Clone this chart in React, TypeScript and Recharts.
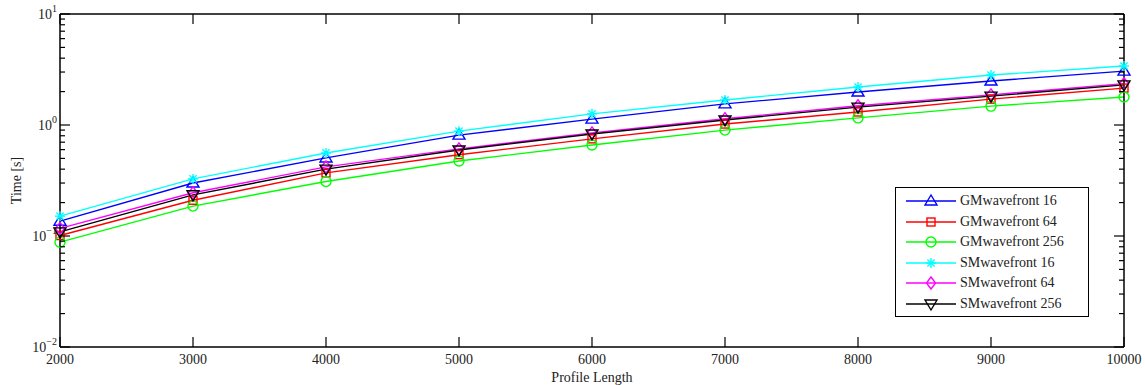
import { LineChart, Line, XAxis, YAxis, Legend } from 'recharts';

const PROFILE_LENGTHS = [2000, 3000, 4000, 5000, 6000, 7000, 8000, 9000, 10000];
const GM_16 = [0.136, 0.3, 0.505, 0.81, 1.13, 1.55, 1.98, 2.49, 3.06];
const GM_64 = [0.101, 0.21, 0.37, 0.54, 0.75, 1.02, 1.31, 1.71, 2.15];
const GM_256 = [0.088, 0.186, 0.31, 0.474, 0.66, 0.9, 1.16, 1.48, 1.79];
const SM_16 = [0.151, 0.327, 0.56, 0.88, 1.26, 1.68, 2.2, 2.82, 3.4];
const SM_64 = [0.117, 0.245, 0.42, 0.61, 0.85, 1.14, 1.49, 1.87, 2.36];
const SM_256 = [0.109, 0.235, 0.4, 0.596, 0.83, 1.11, 1.45, 1.82, 2.3];

const X_TICKS = [2000, 3000, 4000, 5000, 6000, 7000, 8000, 9000, 10000];
const Y_TICKS = [
  0.01, 0.02, 0.03, 0.04, 0.05, 0.06, 0.07, 0.08, 0.09,
  0.1, 0.2, 0.3, 0.4, 0.5, 0.6, 0.7, 0.8, 0.9,
  1, 2, 3, 4, 5, 6, 7, 8, 9, 10,
];

type MarkerKind = 'triUp' | 'square' | 'circle' | 'star' | 'diamond' | 'triDown';

const SERIES: { key: string; name: string; color: string; marker: MarkerKind; values: number[] }[] = [
  { key: 'gm16', name: 'GMwavefront 16', color: '#0000ff', marker: 'triUp', values: GM_16 },
  { key: 'gm64', name: 'GMwavefront 64', color: '#ff0000', marker: 'square', values: GM_64 },
  { key: 'gm256', name: 'GMwavefront 256', color: '#00ff00', marker: 'circle', values: GM_256 },
  { key: 'sm16', name: 'SMwavefront 16', color: '#00ffff', marker: 'star', values: SM_16 },
  { key: 'sm64', name: 'SMwavefront 64', color: '#ff00ff', marker: 'diamond', values: SM_64 },
  { key: 'sm256', name: 'SMwavefront 256', color: '#000000', marker: 'triDown', values: SM_256 },
];

const data = PROFILE_LENGTHS.map((len, i) => {
  const row: Record<string, number> = { len };
  SERIES.forEach(s => { row[s.key] = s.values[i]; });
  return row;
});

const FONT = '"Liberation Serif", "DejaVu Serif", serif';
const TEXT = '#222';

function Marker({ kind, cx, cy, color }: { kind: MarkerKind; cx: number; cy: number; color: string }) {
  const common = { fill: 'none', stroke: color, strokeWidth: 1.4 };
  switch (kind) {
    case 'triUp':
      return <polygon points={`${cx},${cy - 6} ${cx - 6},${cy + 4} ${cx + 6},${cy + 4}`} {...common} />;
    case 'triDown':
      return <polygon points={`${cx},${cy + 6} ${cx - 6},${cy - 4} ${cx + 6},${cy - 4}`} {...common} />;
    case 'square':
      return <rect x={cx - 4} y={cy - 4} width={8} height={8} {...common} />;
    case 'circle':
      return <circle cx={cx} cy={cy} r={5} {...common} />;
    case 'diamond':
      return <polygon points={`${cx},${cy - 6} ${cx + 4.5},${cy} ${cx},${cy + 6} ${cx - 4.5},${cy}`} {...common} />;
    case 'star':
      return (
        <g {...common}>
          <line x1={cx - 5} y1={cy} x2={cx + 5} y2={cy} />
          <line x1={cx} y1={cy - 5} x2={cx} y2={cy + 5} />
          <line x1={cx - 3.6} y1={cy - 3.6} x2={cx + 3.6} y2={cy + 3.6} />
          <line x1={cx - 3.6} y1={cy + 3.6} x2={cx + 3.6} y2={cy - 3.6} />
        </g>
      );
  }
  return null;
}

const isMajor = (v: number) => Math.abs(Math.log10(v) - Math.round(Math.log10(v))) < 1e-9;

// tickSize/tickMargin are 0, so x/y below sit on the axis line
const LeftTick = (props: any) => {
  const { x, y, payload } = props;
  const v = payload.value;
  const major = isMajor(v);
  const exp = Math.round(Math.log10(v));
  return (
    <g>
      <line x1={x} x2={x + (major ? 10 : 5)} y1={y} y2={y} stroke="#000" strokeWidth={1.2} />
      {major && (
        <text x={x - 3} y={y + 5} textAnchor="end" fontFamily={FONT} fontSize={14} fill={TEXT}>
          10
          <tspan dy={-7} fontSize={10}>{exp < 0 ? `\u2212${-exp}` : `${exp}`}</tspan>
        </text>
      )}
    </g>
  );
};

const RightTick = (props: any) => {
  const { x, y, payload } = props;
  const major = isMajor(payload.value);
  return <line x1={x} x2={x - (major ? 10 : 5)} y1={y} y2={y} stroke="#000" strokeWidth={1.2} />;
};

const BottomTick = (props: any) => {
  const { x, y, payload } = props;
  return (
    <g>
      <line x1={x} x2={x} y1={y} y2={y - 10} stroke="#000" strokeWidth={1.2} />
      <text x={x} y={y + 17} textAnchor="middle" fontFamily={FONT} fontSize={14} fill={TEXT}>
        {payload.value}
      </text>
    </g>
  );
};

const TopTick = (props: any) => {
  const { x, y } = props;
  return <line x1={x} x2={x} y1={y} y2={y + 10} stroke="#000" strokeWidth={1.2} />;
};

const renderLegend = () => (
  <div
    style={{
      border: '1.5px solid #000',
      background: '#fff',
      width: 194,
      boxSizing: 'border-box',
      padding: '3px 0 2px 0',
      fontFamily: FONT,
      fontSize: 14,
      color: TEXT,
    }}
  >
    {SERIES.map(s => (
      <div key={s.key} style={{ display: 'flex', alignItems: 'center', height: 20.5 }}>
        <svg width={64} height={20} style={{ flex: 'none' }}>
          <line x1={10} x2={60} y1={10} y2={10} stroke={s.color} strokeWidth={1.4} />
          <Marker kind={s.marker} cx={35} cy={10} color={s.color} />
        </svg>
        <span style={{ whiteSpace: 'nowrap' }}>{s.name}</span>
      </div>
    ))}
  </div>
);

export default function App() {
  return (
    <div style={{ position: 'absolute', left: 0, top: 0, background: '#fff' }}>
      <LineChart width={1145} height={385} data={data} margin={{ top: 0, right: 0, bottom: 0, left: 0 }}>
        <XAxis
          xAxisId="b"
          dataKey="len"
          type="number"
          domain={[2000, 10000]}
          ticks={X_TICKS}
          interval={0}
          height={38}
          tickSize={0}
          tickMargin={0}
          tick={BottomTick}
          axisLine={{ stroke: '#000', strokeWidth: 1.5 }}
          label={{
            content: (p: any) => {
              const vb = p.viewBox;
              return (
                <text x={vb.x + vb.width / 2} y={vb.y + 35} textAnchor="middle" fontFamily={FONT} fontSize={14} fill={TEXT}>
                  Profile Length
                </text>
              );
            },
          }}
        />
        <XAxis
          xAxisId="t"
          orientation="top"
          dataKey="len"
          type="number"
          domain={[2000, 10000]}
          ticks={X_TICKS}
          interval={0}
          height={14}
          tickSize={0}
          tickMargin={0}
          tick={TopTick}
          axisLine={{ stroke: '#000', strokeWidth: 1.5 }}
        />
        <YAxis
          yAxisId="l"
          scale="log"
          type="number"
          domain={[0.01, 10]}
          allowDataOverflow
          ticks={Y_TICKS}
          interval={0}
          width={60}
          tickSize={0}
          tickMargin={0}
          tick={LeftTick}
          axisLine={{ stroke: '#000', strokeWidth: 1.5 }}
          label={{
            content: (p: any) => {
              const vb = p.viewBox;
              const cy = vb.y + vb.height / 2;
              return (
                <text x={21} y={cy} transform={`rotate(-90 21 ${cy})`} textAnchor="middle" fontFamily={FONT} fontSize={14} fill={TEXT}>
                  Time [s]
                </text>
              );
            },
          }}
        />
        <YAxis
          yAxisId="r"
          orientation="right"
          scale="log"
          type="number"
          domain={[0.01, 10]}
          allowDataOverflow
          ticks={Y_TICKS}
          interval={0}
          width={21}
          tickSize={0}
          tickMargin={0}
          tick={RightTick}
          axisLine={{ stroke: '#000', strokeWidth: 1.5 }}
        />
        <Legend
          layout="vertical"
          align="center"
          verticalAlign="middle"
          content={renderLegend}
          wrapperStyle={{ left: 895, top: 187, width: 194 }}
        />
        {SERIES.map(s => (
          <Line
            key={s.key}
            xAxisId="b"
            yAxisId="l"
            dataKey={s.key}
            name={s.name}
            stroke={s.color}
            strokeWidth={1.4}
            type="linear"
            isAnimationActive={false}
            activeDot={false}
            dot={(p: any) => <Marker key={`${s.key}-${p.index}`} kind={s.marker} cx={p.cx} cy={p.cy} color={s.color} />}
          />
        ))}
      </LineChart>
    </div>
  );
}
